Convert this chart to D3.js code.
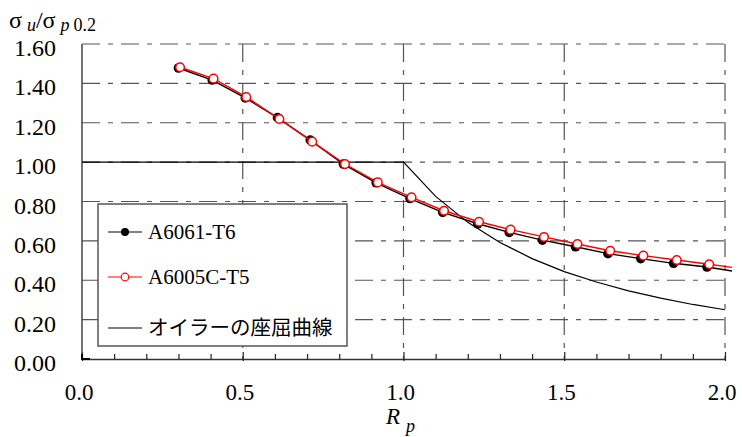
<!DOCTYPE html>
<html>
<head>
<meta charset="utf-8">
<script src="https://cdn.jsdelivr.net/npm/d3@7"></script>
<style>
  html, body { margin: 0; padding: 0; background: #fff; }
  svg { display: block; }
</style>
</head>
<body>
<svg id="chart" width="742" height="437"></svg>
<script>
// Slenderness ratio Rp vs. σu/σp0.2 for two aluminium alloys, with the Euler buckling curve
const xTicks = [0.0, 0.5, 1.0, 1.5, 2.0];
const xTickLabels = ["0.0", "0.5", "1.0", "1.5", "2.0"];
const yTicks = [0.0, 0.2, 0.4, 0.6, 0.8, 1.0, 1.2, 1.4, 1.6];
const yTickLabels = ["0.00", "0.20", "0.40", "0.60", "0.80", "1.00", "1.20", "1.40", "1.60"];

const a6061X = [0.300, 0.405, 0.508, 0.608, 0.710, 0.813, 0.915, 1.020, 1.122, 1.231, 1.329, 1.432, 1.535, 1.636, 1.738, 1.840, 1.944, 2.047];
const a6061Y = [1.478, 1.417, 1.326, 1.226, 1.112, 0.990, 0.895, 0.815, 0.745, 0.687, 0.643, 0.604, 0.570, 0.535, 0.510, 0.486, 0.467, 0.440];

const a6005X = [0.305, 0.409, 0.511, 0.614, 0.716, 0.818, 0.920, 1.025, 1.126, 1.235, 1.333, 1.437, 1.541, 1.643, 1.746, 1.850, 1.951, 2.054];
const a6005Y = [1.482, 1.424, 1.331, 1.219, 1.104, 0.990, 0.897, 0.821, 0.753, 0.697, 0.657, 0.620, 0.584, 0.550, 0.525, 0.503, 0.481, 0.458];

const eulerX = [0.0, 1.0, 1.1, 1.2, 1.3, 1.4, 1.5, 1.6, 1.7, 1.8, 1.9, 2.0];
const eulerY = [1.000, 1.000, 0.826, 0.694, 0.592, 0.510, 0.444, 0.391, 0.346, 0.309, 0.277, 0.250];

const legendLabels = ["A6061-T6", "A6005C-T5", "オイラーの座屈曲線"];

// Font stacks
const serif = "'Liberation Serif', 'Times New Roman', serif";
const jp = "'Noto Sans CJK JP', sans-serif";

const svg = d3.select("#chart");
const margin = { left: 82, top: 44, right: 17, bottom: 78 };
const W = 742, H = 437;

const x = d3.scaleLinear().domain([0, 2]).range([margin.left, W - margin.right]);
const y = d3.scaleLinear().domain([0, 1.6]).range([H - margin.bottom, margin.top]);

const gridColor = "#555";
const dash = "18,8,5,8";

// Horizontal grid lines
svg.append("g").selectAll("line")
  .data(yTicks.filter(d => d > 0))
  .join("line")
  .attr("x1", x(0)).attr("x2", x(2))
  .attr("y1", d => y(d)).attr("y2", d => y(d))
  .attr("stroke", gridColor).attr("stroke-width", 1.2)
  .attr("stroke-dasharray", dash);

// Vertical grid lines
svg.append("g").selectAll("line")
  .data(xTicks.filter(d => d > 0))
  .join("line")
  .attr("x1", d => x(d)).attr("x2", d => x(d))
  .attr("y1", y(1.6)).attr("y2", y(0))
  .attr("stroke", gridColor).attr("stroke-width", 1.2)
  .attr("stroke-dasharray", dash);

// Bottom axis with minor ticks every 0.1
const xAxis = d3.axisBottom(x).tickValues(d3.range(0, 21).map(i => i / 10))
  .tickSize(0).tickFormat("");
const gx = svg.append("g").attr("transform", `translate(0,${y(0)})`).call(xAxis);
gx.select(".domain").attr("stroke", "#333").attr("stroke-width", 1.5);
gx.selectAll(".tick line")
  .attr("y1", d => (Math.round(d * 10) % 5 === 0 ? 2 : 0))
  .attr("y2", d => (Math.round(d * 10) % 5 === 0 ? -7 : -5))
  .attr("stroke", "#222").attr("stroke-width", 1.2);

// Left spine
svg.append("line")
  .attr("x1", x(0)).attr("x2", x(0))
  .attr("y1", y(1.6)).attr("y2", y(0))
  .attr("stroke", "#444").attr("stroke-width", 1.5);
svg.append("path")
  .attr("d", `M${x(0)},${y(0) - 5}V${y(0)}H${x(0) + 8}`)
  .attr("fill", "none").attr("stroke", "#000").attr("stroke-width", 2);

// Tick labels
svg.append("g").selectAll("text")
  .data(xTicks)
  .join("text")
  .attr("font-family", serif)
  .attr("x", d => x(d) - 3).attr("y", 400)
  .attr("text-anchor", "middle")
  .attr("font-size", 23)
  .text((d, i) => xTickLabels[i]);

svg.append("g").selectAll("text")
  .data(yTicks)
  .join("text")
  .attr("font-family", serif)
  .attr("x", 56).attr("y", d => y(d) + 12)
  .attr("text-anchor", "end")
  .attr("font-size", 24)
  .text((d, i) => yTickLabels[i]);

// Axis titles
const yt = svg.append("text").attr("font-family", serif).attr("x", 9).attr("y", 28)
  .attr("font-size", 24);
yt.append("tspan").text("σ");
yt.append("tspan").attr("dx", 5).attr("dy", 3).attr("font-style", "italic").attr("font-size", 18).text("u");
yt.append("tspan").attr("dy", -3).text("/σ");
yt.append("tspan").attr("dx", 5).attr("dy", 3).attr("font-style", "italic").attr("font-size", 18).text("p");
yt.append("tspan").attr("dx", 4).attr("font-size", 18).text("0.2");

const xt = svg.append("text").attr("font-family", serif).attr("x", 386).attr("y", 424)
  .attr("font-size", 23);
xt.append("tspan").attr("font-style", "italic").text("R");
xt.append("tspan").attr("dx", 6).attr("dy", 8).attr("font-style", "italic").attr("font-size", 18).text("p");

// Clip for the data lines (they run slightly past Rp = 2.0)
svg.append("clipPath").attr("id", "plotClip")
  .append("rect")
  .attr("x", x(0)).attr("y", 0)
  .attr("width", x(2) - x(0) + 7).attr("height", y(0));

const plot = svg.append("g").attr("clip-path", "url(#plotClip)");

const line = d3.line().x(d => x(d[0])).y(d => y(d[1]));

// Euler buckling curve
plot.append("path")
  .datum(eulerX.map((v, i) => [v, eulerY[i]]))
  .attr("d", line)
  .attr("fill", "none").attr("stroke", "#000").attr("stroke-width", 1.2);

const a6061 = a6061X.map((v, i) => [v, a6061Y[i]]);
const a6005 = a6005X.map((v, i) => [v, a6005Y[i]]);

// A6061-T6: black line, filled black circles
plot.append("path").datum(a6061).attr("d", line)
  .attr("fill", "none").attr("stroke", "#000").attr("stroke-width", 1.4);
plot.append("g").selectAll("circle")
  .data(a6061.filter(d => d[0] <= 2))
  .join("circle")
  .attr("cx", d => x(d[0])).attr("cy", d => y(d[1])).attr("r", 4.8)
  .attr("fill", "#000");

// A6005C-T5: red line, open circles
plot.append("path").datum(a6005).attr("d", line)
  .attr("fill", "none").attr("stroke", "#f00").attr("stroke-width", 1.4);
plot.append("g").selectAll("circle")
  .data(a6005.filter(d => d[0] <= 2))
  .join("circle")
  .attr("cx", d => x(d[0])).attr("cy", d => y(d[1])).attr("r", 4.3)
  .attr("fill", "#fff").attr("stroke", "#f00").attr("stroke-width", 1.5);

// Legend
const lg = svg.append("g");
lg.append("rect")
  .attr("x", 98).attr("y", 204).attr("width", 249).attr("height", 142)
  .attr("fill", "#fff").attr("stroke", "#555").attr("stroke-width", 1.5);

const rowsY = [232, 277, 328];
const lx1 = 108, lx2 = 142, lxm = 125;
lg.append("line").attr("x1", lx1).attr("x2", lx2).attr("y1", rowsY[0]).attr("y2", rowsY[0])
  .attr("stroke", "#000").attr("stroke-width", 1.2);
lg.append("circle").attr("cx", lxm).attr("cy", rowsY[0]).attr("r", 4).attr("fill", "#000");
lg.append("line").attr("x1", lx1).attr("x2", lx2).attr("y1", rowsY[1]).attr("y2", rowsY[1])
  .attr("stroke", "#f00").attr("stroke-width", 1.2);
lg.append("circle").attr("cx", lxm).attr("cy", rowsY[1]).attr("r", 3.8)
  .attr("fill", "#fff").attr("stroke", "#f00").attr("stroke-width", 1.2);
lg.append("line").attr("x1", lx1).attr("x2", lx2).attr("y1", rowsY[2]).attr("y2", rowsY[2])
  .attr("stroke", "#000").attr("stroke-width", 1);

lg.selectAll("text.lab")
  .data(legendLabels)
  .join("text")
  .attr("class", "lab")
  .attr("font-family", (d, i) => i < 2 ? serif : jp)
  .attr("x", 148)
  .attr("y", (d, i) => rowsY[i] + 7)
  .attr("font-size", (d, i) => i < 2 ? 21 : 20.5)
  .text(d => d);
</script>
</body>
</html>
